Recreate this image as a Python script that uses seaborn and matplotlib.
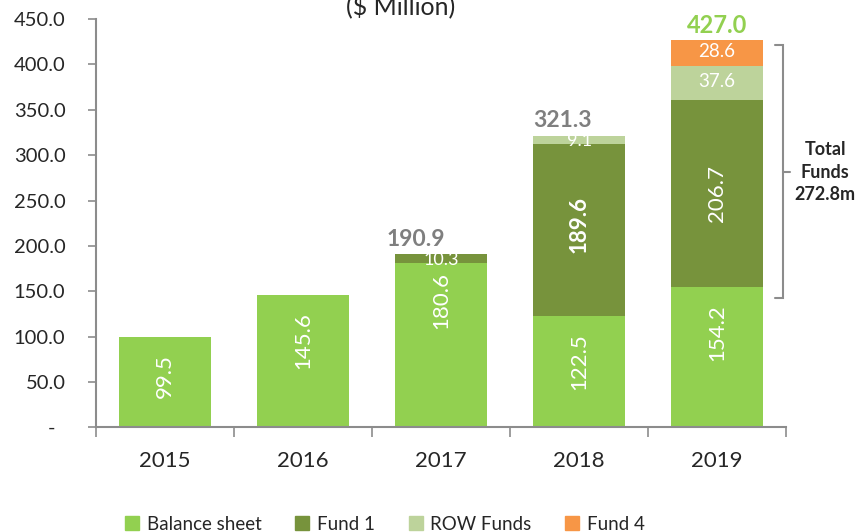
import matplotlib
matplotlib.use("Agg")
import matplotlib.pyplot as plt
import seaborn as sns
import numpy as np
from matplotlib.patches import Patch

# data
years = ["2015", "2016", "2017", "2018", "2019"]
balance_sheet = [99.5, 145.6, 180.6, 122.5, 154.2]
fund1 = [0, 0, 10.3, 189.6, 206.7]
row_funds = [0, 0, 0, 9.1, 37.6]
fund4 = [0, 0, 0, 0, 28.6]
totals = [None, None, 190.9, 321.3, 427.0]
yticks = [0, 50, 100, 150, 200, 250, 300, 350, 400, 450]

c_bs = "#92D050"
c_f1 = "#77933C"
c_row = "#BDD39B"
c_f4 = "#F79646"
grey = "#8C8C8C"

sns.set_style("white")
plt.rcParams["font.family"] = ["Lato", "DejaVu Sans"]

fig = plt.figure(figsize=(8.61, 5.32), dpi=100)
ax = fig.add_axes([0.1115, 0.197, 0.8015, 0.767])

b1 = np.array(balance_sheet)
b2 = b1 + np.array(fund1)
b3 = b2 + np.array(row_funds)
w = 0.667
sns.barplot(x=years, y=balance_sheet, color=c_bs, width=w, ax=ax, linewidth=0, saturation=1)
sns.barplot(x=years, y=fund1, bottom=b1, color=c_f1, width=w, ax=ax, linewidth=0, saturation=1)
sns.barplot(x=years, y=row_funds, bottom=b2, color=c_row, width=w, ax=ax, linewidth=0, saturation=1)
sns.barplot(x=years, y=fund4, bottom=b3, color=c_f4, width=w, ax=ax, linewidth=0, saturation=1)

ax.set_xlim(-0.5, 4.5)
ax.set_ylim(0, 450)
ax.set_yticks(yticks)
ax.set_yticklabels(["-  "] + [f"{v:.1f}" for v in yticks[1:]], fontsize=14.5)
ax.tick_params(axis="y", length=6, width=1.2, color=grey, direction="out", left=True, pad=16)
ax.set_xticks(range(5))
ax.set_xticklabels(years, fontsize=16)
ax.tick_params(axis="x", which="major", length=0, pad=17)
ax.set_xticks(np.arange(-0.5, 5, 1), minor=True)
ax.tick_params(axis="x", which="minor", length=7, width=1.2, color=grey, bottom=True)
for s in ["top", "right"]:
    ax.spines[s].set_visible(False)
for s in ["left", "bottom"]:
    ax.spines[s].set_color(grey)
    ax.spines[s].set_linewidth(1.5)

# balance sheet labels sit near the top of their bar
offs = [-17, -17, -9, -17, -17]
for i in range(5):
    ax.annotate(f"{balance_sheet[i]:.1f}", (i, balance_sheet[i]), xytext=(0, offs[i]),
                textcoords="offset pixels", color="white", rotation=90,
                ha="center", va="top", fontsize=16)
ax.text(2, b1[2] + fund1[2] / 2 - 1.5, "10.3", color="white", ha="center", va="center", fontsize=13)
ax.text(3, b1[3] + fund1[3] / 2 + 6, "189.6", color="white", rotation=90, ha="center",
        va="center", fontsize=16, fontweight="bold")
ax.text(4, b1[4] + fund1[4] / 2, "206.7", color="white", rotation=90, ha="center",
        va="center", fontsize=16)
ax.text(3, b2[3] + row_funds[3] / 2 - 1.5, "9.1", color="white", ha="center", va="center", fontsize=13)
ax.text(4, b2[4] + row_funds[4] / 2 + 1, "37.6", color="white", ha="center", va="center", fontsize=13.5)
ax.text(4, b3[4] + fund4[4] / 2 + 1, "28.6", color="white", ha="center", va="center", fontsize=13.5)

# totals
ax.text(1.82, totals[2] + 5, "190.9", color="#7F7F7F", ha="center", va="bottom",
        fontsize=16.5, fontweight="bold")
ax.text(2.88, totals[3] + 5, "321.3", color="#7F7F7F", ha="center", va="bottom",
        fontsize=16.5, fontweight="bold")
ax.text(4, totals[4] + 3, "427.0", color=c_bs, ha="center", va="bottom",
        fontsize=17, fontweight="bold")

# bracket for total funds
bx = 4.478
lo, hi = 142, 422
mid = 281
ax.plot([bx - 0.058, bx, bx, bx - 0.058], [hi, hi, lo, lo], color=grey, lw=1.5,
        clip_on=False, solid_joinstyle="miter")
ax.plot([bx, bx + 0.05], [mid, mid], color=grey, lw=1.5, clip_on=False)
ax.text(4.783, mid, "Total\nFunds\n272.8m", ha="center", va="center", fontsize=13,
        fontweight="bold", linespacing=1.4, clip_on=False)

# title (partially cut off at the top, as in the source)
fig.text(0.465, 0.988, "($ Million)", ha="center", va="center", fontsize=18)

handles = [Patch(color=c_bs, label="Balance sheet"), Patch(color=c_f1, label="Fund 1"),
           Patch(color=c_row, label="ROW Funds"), Patch(color=c_f4, label="Fund 4")]
fig.legend(handles=handles, loc="center", bbox_to_anchor=(0.447, 0.015), ncol=4,
           frameon=False, fontsize=13.5, handlelength=0.75, handleheight=0.75,
           handletextpad=0.4, columnspacing=1.8)

fig.savefig("out.png", dpi=100)
